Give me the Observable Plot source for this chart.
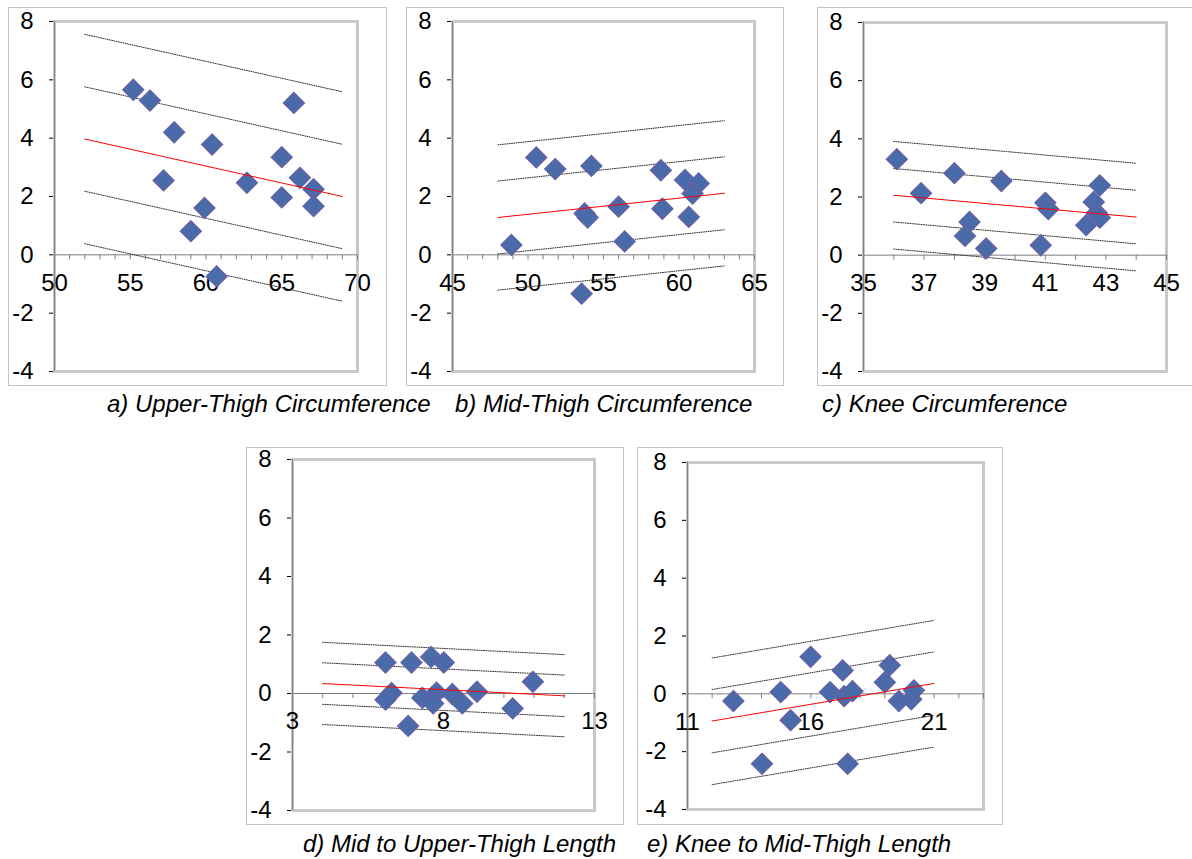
<!DOCTYPE html>
<html><head><meta charset="utf-8">
<script src="https://cdn.jsdelivr.net/npm/d3@7"></script>
<script src="https://cdn.jsdelivr.net/npm/@observablehq/plot@0.6"></script>
<style>
html,body{margin:0;padding:0;background:#fff;overflow:hidden;width:1192px;height:859px;position:relative;}
.panel{position:absolute;border:1px solid #c4c4c4;box-sizing:border-box;background:#fff;}
.panel svg{display:block;overflow:visible;}
.cap{position:absolute;font:italic 24px "Liberation Sans",Arial,sans-serif;line-height:1;white-space:nowrap;color:#000;}
</style></head><body>
<script>
// ---- shared ----
const yTicks = [-4, -2, 0, 2, 4, 6, 8];

// ---- a) Upper-Thigh Circumference ----
const aX = [55.2, 56.3, 57.9, 57.2, 59.9, 59.0, 60.4, 60.7, 62.7, 65.0, 65.0, 65.8, 66.2, 67.1, 67.1];
const aY = [5.66, 5.29, 4.20, 2.55, 1.61, 0.81, 3.78, -0.74, 2.47, 3.35, 1.97, 5.21, 2.64, 2.25, 1.67];
const aFitX = [52, 69];
const aFitY = [3.97, 2.00];
const aBand = [-3.59, -1.79, 1.79, 3.59];
const aXLabels = [50, 55, 60, 65, 70];
const aXMinor = d3.range(51, 71);

// ---- b) Mid-Thigh Circumference ----
const bX = [48.9, 50.55, 51.8, 54.2, 53.75, 53.95, 53.55, 56.0, 56.4, 58.8, 58.9, 60.4, 61.3, 60.9, 60.65];
const bY = [0.34, 3.34, 2.94, 3.05, 1.42, 1.28, -1.33, 1.65, 0.46, 2.90, 1.58, 2.57, 2.45, 2.10, 1.30];
const bFitX = [48, 63];
const bFitY = [1.28, 2.11];
const bBand = [-2.49, -1.25, 1.25, 2.49];
const bXLabels = [45, 50, 55, 60, 65];
const bXMinor = d3.range(46, 66);

// ---- c) Knee Circumference ----
const cX = [36.1, 36.9, 38.0, 38.5, 38.35, 39.05, 39.55, 40.85, 41.0, 41.1, 42.35, 42.6, 42.8, 42.7, 42.8];
const cY = [3.30, 2.13, 2.82, 1.14, 0.66, 0.23, 2.55, 0.34, 1.80, 1.58, 1.03, 1.83, 2.40, 1.45, 1.29];
const cFitX = [36, 44];
const cFitY = [2.06, 1.31];
const cBand = [-1.85, -0.92, 0.92, 1.85];
const cXLabels = [35, 37, 39, 41, 43, 45];
const cXMinor = d3.range(36, 46);

// ---- d) Mid to Upper-Thigh Length ----
const dX = [6.08, 6.94, 7.59, 8.01, 10.96, 6.28, 6.08, 6.83, 7.30, 7.77, 7.66, 8.29, 8.62, 9.11, 10.29];
const dY = [1.06, 1.06, 1.25, 1.06, 0.40, 0.02, -0.21, -1.11, -0.15, 0.03, -0.34, -0.02, -0.34, 0.06, -0.51];
const dFitX = [4, 12];
const dFitY = [0.34, -0.08];
const dBand = [-1.40, -0.71, 0.71, 1.41];
const dXLabels = [3, 8, 13];
const dXMinor = d3.range(4, 14);

// ---- e) Knee to Mid-Thigh Length ----
const eX = [12.86, 14.02, 14.78, 15.18, 15.99, 16.78, 17.29, 17.35, 17.69, 17.49, 19.0, 19.2, 19.57, 20.07, 20.18];
const eY = [-0.25, -2.42, 0.06, -0.91, 1.28, 0.06, 0.81, -0.08, 0.09, -2.42, 0.40, 0.99, -0.25, -0.19, 0.12];
const eFitX = [12, 21];
const eFitY = [-0.94, 0.36];
const eBand = [-2.20, -1.10, 1.09, 2.18];
const eXLabels = [11, 16, 21];
const eXMinor = d3.range(12, 24);

const captions = [
  "a) Upper-Thigh Circumference",
  "b) Mid-Thigh Circumference",
  "c) Knee Circumference",
  "d) Mid to Upper-Thigh Length",
  "e) Knee to Mid-Thigh Length"
];

// ---- layout (box = outer border, plot = plot-area edges; page pixels) ----
const panels = [
  {xs: aX, ys: aY, fx: aFitX, fy: aFitY, band: aBand, labels: aXLabels, minor: aXMinor, dom: [50, 70],
   box: [8, 7, 386, 385], plot: [54, 21, 357, 371], cap: [107, 392]},
  {xs: bX, ys: bY, fx: bFitX, fy: bFitY, band: bBand, labels: bXLabels, minor: bXMinor, dom: [45, 65],
   box: [406, 7, 783, 385], plot: [452, 21, 754, 371], cap: [455, 392]},
  {xs: cX, ys: cY, fx: cFitX, fy: cFitY, band: cBand, labels: cXLabels, minor: cXMinor, dom: [35, 45],
   box: [817, 7, 1196, 385], plot: [863, 22, 1166, 371], cap: [822, 392]},
  {xs: dX, ys: dY, fx: dFitX, fy: dFitY, band: dBand, labels: dXLabels, minor: dXMinor, dom: [3, 13],
   box: [246, 447, 623, 824], plot: [292, 459, 594, 810], cap: [303, 832]},
  {xs: eX, ys: eY, fx: eFitX, fy: eFitY, band: eBand, labels: eXLabels, minor: eXMinor, dom: [11, 23],
   box: [637, 447, 1002, 824], plot: [687, 462, 983, 809], cap: [647, 832]}
];

const AXIS = "#7f7f7f";
panels.forEach((p, k) => {
  const [L, T, R, B] = p.box;
  const [pl, pt, pr, pb] = p.plot;
  const width = R - L - 1, height = B - T - 1;
  const pts = p.xs.map((x, i) => ({x, y: p.ys[i]}));
  const fit = p.fx.map((x, i) => ({x, y: p.fy[i]}));
  const bands = p.band.map(off => p.fx.map((x, i) => ({x, y: p.fy[i] + off})));

  const chart = Plot.plot({
    width, height,
    marginLeft: pl - (L + 1), marginTop: pt - (T + 1),
    marginRight: R - pr, marginBottom: B - pb,
    style: {fontFamily: "'Liberation Sans', Arial, sans-serif", fontSize: "24px", color: "#000", background: "#fff", overflow: "visible"},
    x: {domain: p.dom, axis: null},
    y: {domain: [-4, 8], ticks: yTicks, tickSize: 5, tickPadding: 16, label: null, tickFormat: d => String(d)},
    marks: [
      Plot.frame({stroke: "#c8c8c8", strokeWidth: 3}),
      Plot.ruleY([0], {stroke: AXIS}),
      Plot.ruleX([p.dom[0]], {stroke: AXIS}),
      Plot.ruleX(p.minor, {x: d => d, y1: 0, y2: 0, insetBottom: -5, stroke: AXIS}),
      Plot.text(p.labels, {x: d => d, y: 0, dy: 28, text: d => String(d), fontSize: 24, fill: "#000"}),
      ...bands.map(b => Plot.line(b, {x: "x", y: "y", stroke: "#333", strokeWidth: 1, strokeDasharray: "1,1.3"})),
      Plot.dot(pts, {x: "x", y: "y", symbol: "diamond2", r: 9.5, fill: "#4a6ba9", stroke: "#6a5fa4", strokeWidth: 1.2}),
      Plot.line(fit, {x: "x", y: "y", stroke: "#ff0000", strokeWidth: 1})
    ]
  });

  const div = document.createElement("div");
  div.className = "panel";
  div.style.left = L + "px"; div.style.top = T + "px";
  div.style.width = (R - L + 1) + "px"; div.style.height = (B - T + 1) + "px";
  div.appendChild(chart);
  document.body.appendChild(div);

  const cap = document.createElement("div");
  cap.className = "cap";
  cap.style.left = p.cap[0] + "px"; cap.style.top = p.cap[1] + "px";
  cap.textContent = captions[k];
  document.body.appendChild(cap);
});
</script>
</body></html>
